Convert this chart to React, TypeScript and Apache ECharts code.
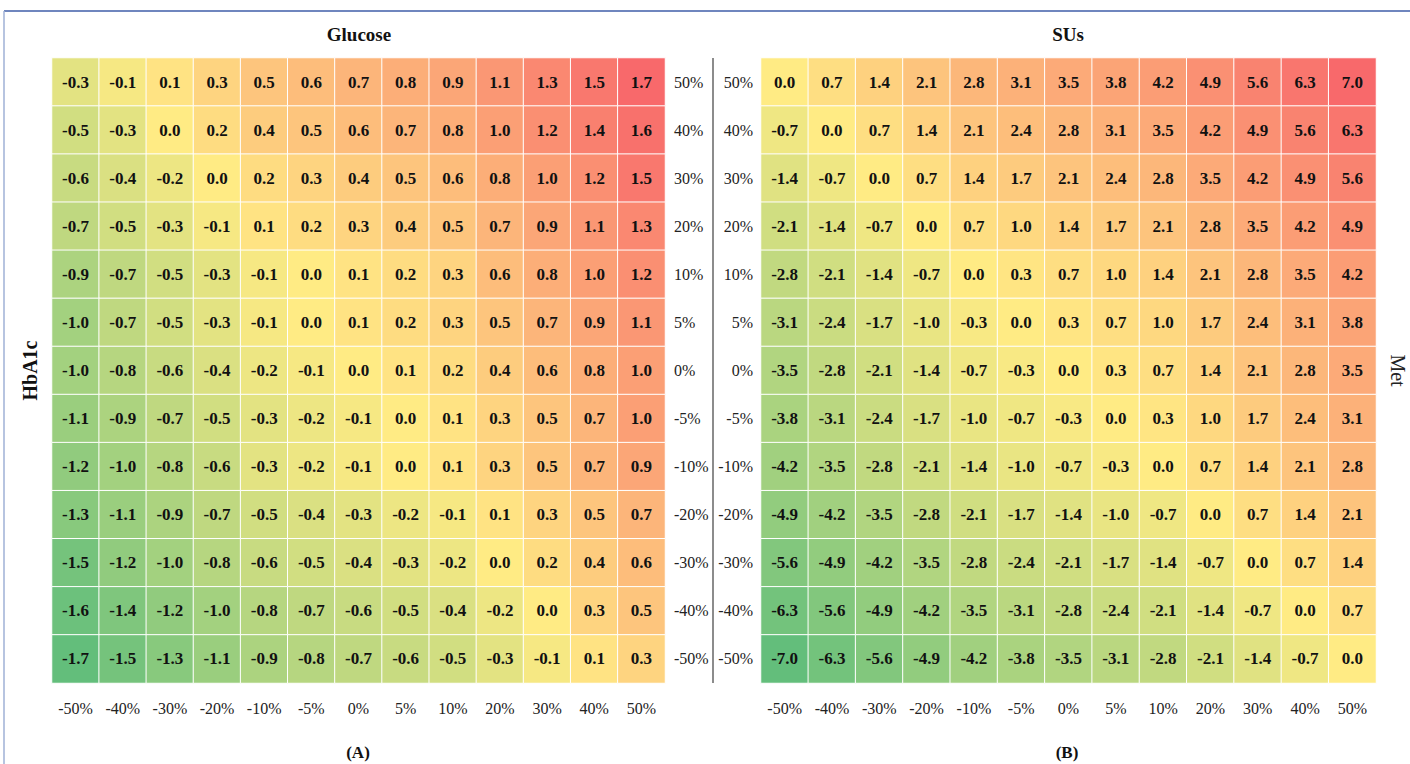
import React, { useEffect, useRef } from "react";
import * as echarts from "echarts";

const xLabels = ["-50%", "-40%", "-30%", "-20%", "-10%", "-5%", "0%", "5%", "10%", "20%", "30%", "40%", "50%"];
const yLabels = ["50%", "40%", "30%", "20%", "10%", "5%", "0%", "-5%", "-10%", "-20%", "-30%", "-40%", "-50%"];

const glucoseRows: number[][] = [
  [-0.3, -0.1, 0.1, 0.3, 0.5, 0.6, 0.7, 0.8, 0.9, 1.1, 1.3, 1.5, 1.7],
  [-0.5, -0.3, 0.0, 0.2, 0.4, 0.5, 0.6, 0.7, 0.8, 1.0, 1.2, 1.4, 1.6],
  [-0.6, -0.4, -0.2, 0.0, 0.2, 0.3, 0.4, 0.5, 0.6, 0.8, 1.0, 1.2, 1.5],
  [-0.7, -0.5, -0.3, -0.1, 0.1, 0.2, 0.3, 0.4, 0.5, 0.7, 0.9, 1.1, 1.3],
  [-0.9, -0.7, -0.5, -0.3, -0.1, 0.0, 0.1, 0.2, 0.3, 0.6, 0.8, 1.0, 1.2],
  [-1.0, -0.7, -0.5, -0.3, -0.1, 0.0, 0.1, 0.2, 0.3, 0.5, 0.7, 0.9, 1.1],
  [-1.0, -0.8, -0.6, -0.4, -0.2, -0.1, 0.0, 0.1, 0.2, 0.4, 0.6, 0.8, 1.0],
  [-1.1, -0.9, -0.7, -0.5, -0.3, -0.2, -0.1, 0.0, 0.1, 0.3, 0.5, 0.7, 1.0],
  [-1.2, -1.0, -0.8, -0.6, -0.3, -0.2, -0.1, 0.0, 0.1, 0.3, 0.5, 0.7, 0.9],
  [-1.3, -1.1, -0.9, -0.7, -0.5, -0.4, -0.3, -0.2, -0.1, 0.1, 0.3, 0.5, 0.7],
  [-1.5, -1.2, -1.0, -0.8, -0.6, -0.5, -0.4, -0.3, -0.2, 0.0, 0.2, 0.4, 0.6],
  [-1.6, -1.4, -1.2, -1.0, -0.8, -0.7, -0.6, -0.5, -0.4, -0.2, 0.0, 0.3, 0.5],
  [-1.7, -1.5, -1.3, -1.1, -0.9, -0.8, -0.7, -0.6, -0.5, -0.3, -0.1, 0.1, 0.3],
];

const susRows: number[][] = [
  [0.0, 0.7, 1.4, 2.1, 2.8, 3.1, 3.5, 3.8, 4.2, 4.9, 5.6, 6.3, 7.0],
  [-0.7, 0.0, 0.7, 1.4, 2.1, 2.4, 2.8, 3.1, 3.5, 4.2, 4.9, 5.6, 6.3],
  [-1.4, -0.7, 0.0, 0.7, 1.4, 1.7, 2.1, 2.4, 2.8, 3.5, 4.2, 4.9, 5.6],
  [-2.1, -1.4, -0.7, 0.0, 0.7, 1.0, 1.4, 1.7, 2.1, 2.8, 3.5, 4.2, 4.9],
  [-2.8, -2.1, -1.4, -0.7, 0.0, 0.3, 0.7, 1.0, 1.4, 2.1, 2.8, 3.5, 4.2],
  [-3.1, -2.4, -1.7, -1.0, -0.3, 0.0, 0.3, 0.7, 1.0, 1.7, 2.4, 3.1, 3.8],
  [-3.5, -2.8, -2.1, -1.4, -0.7, -0.3, 0.0, 0.3, 0.7, 1.4, 2.1, 2.8, 3.5],
  [-3.8, -3.1, -2.4, -1.7, -1.0, -0.7, -0.3, 0.0, 0.3, 1.0, 1.7, 2.4, 3.1],
  [-4.2, -3.5, -2.8, -2.1, -1.4, -1.0, -0.7, -0.3, 0.0, 0.7, 1.4, 2.1, 2.8],
  [-4.9, -4.2, -3.5, -2.8, -2.1, -1.7, -1.4, -1.0, -0.7, 0.0, 0.7, 1.4, 2.1],
  [-5.6, -4.9, -4.2, -3.5, -2.8, -2.4, -2.1, -1.7, -1.4, -0.7, 0.0, 0.7, 1.4],
  [-6.3, -5.6, -4.9, -4.2, -3.5, -3.1, -2.8, -2.4, -2.1, -1.4, -0.7, 0.0, 0.7],
  [-7.0, -6.3, -5.6, -4.9, -4.2, -3.8, -3.5, -3.1, -2.8, -2.1, -1.4, -0.7, 0.0],
];

const titles = ["Glucose", "SUs"];
const panelTags = ["(A)", "(B)"];
const yNameLeft = "HbA1c";
const yNameRight = "Met";

const FONT = "Liberation Serif, serif";
const scaleColors = ["#63BE7B", "#FFEB84", "#F8696B"];

function toData(rows: number[][]) {
  const out: [number, number, number][] = [];
  rows.forEach((row, yi) => row.forEach((v, xi) => out.push([xi, yi, v])));
  return out;
}

export default function App() {
  const ref = useRef<HTMLDivElement>(null);
  useEffect(() => {
    if (!ref.current) return;
    const chart = echarts.init(ref.current, null, { renderer: "svg" });
    const G1 = { left: 52, top: 58, width: 613, height: 625 };
    const G2 = { left: 761, top: 58, width: 615, height: 625 };
    const gMin = Math.min(...glucoseRows.flat());
    const gMax = Math.max(...glucoseRows.flat());
    const sMin = Math.min(...susRows.flat());
    const sMax = Math.max(...susRows.flat());
    const xAxisCommon = {
      type: "category" as const,
      data: xLabels,
      position: "bottom" as const,
      axisLine: { show: false },
      axisTick: { show: false },
      splitLine: { show: false },
      axisLabel: { fontFamily: FONT, fontSize: 16, color: "#222", margin: 17 },
    };
    const yAxisCommon = {
      type: "category" as const,
      data: yLabels,
      inverse: true,
      axisLine: { show: false },
      axisTick: { show: false },
      splitLine: { show: false },
    };
    const labelStyle = {
      show: true,
      fontFamily: FONT,
      fontSize: 17,
      fontWeight: "bold" as const,
      color: "#111",
      formatter: (p: any) => (p.value[2] as number).toFixed(1),
    };
    const titleStyle = { fontFamily: FONT, fontSize: 19, fontWeight: "bold" as const, color: "#111" };
    const tagStyle = { fontFamily: FONT, fontSize: 17, fontWeight: "bold" as const, color: "#111" };
    const option: any = {
      animation: false,
      backgroundColor: "#fff",
      title: [
        { text: titles[0], left: 359, top: 25, padding: 0, textAlign: "center", textStyle: titleStyle },
        { text: titles[1], left: 1068, top: 25, padding: 0, textAlign: "center", textStyle: titleStyle },
        { text: panelTags[0], left: 358, top: 744, textAlign: "center", padding: 0, textStyle: tagStyle },
        { text: panelTags[1], left: 1067, top: 744, textAlign: "center", padding: 0, textStyle: tagStyle },
      ],
      grid: [
        { ...G1, containLabel: false },
        { ...G2, containLabel: false },
      ],
      xAxis: [
        { ...xAxisCommon, gridIndex: 0 },
        { ...xAxisCommon, gridIndex: 1 },
      ],
      yAxis: [
        {
          ...yAxisCommon,
          gridIndex: 0,
          position: "right",
          axisLabel: { fontFamily: FONT, fontSize: 16, color: "#222", margin: 9, align: "left" },
        },
        {
          ...yAxisCommon,
          gridIndex: 1,
          position: "left",
          axisLabel: { fontFamily: FONT, fontSize: 16, color: "#222", margin: 8, align: "right" },
        },
      ],
      visualMap: [
        { type: "continuous", show: false, seriesIndex: 0, dimension: 2, min: gMin, max: gMax, inRange: { color: scaleColors } },
        { type: "continuous", show: false, seriesIndex: 1, dimension: 2, min: sMin, max: sMax, inRange: { color: scaleColors } },
      ],
      series: [
        {
          type: "heatmap",
          xAxisIndex: 0,
          yAxisIndex: 0,
          data: toData(glucoseRows),
          label: labelStyle,
          itemStyle: { borderColor: "#fff", borderWidth: 1 },
          emphasis: { disabled: true },
        },
        {
          type: "heatmap",
          xAxisIndex: 1,
          yAxisIndex: 1,
          data: toData(susRows),
          label: labelStyle,
          itemStyle: { borderColor: "#fff", borderWidth: 1 },
          emphasis: { disabled: true },
        },
      ],
      graphic: [
        { type: "line", shape: { x1: 4, y1: 11, x2: 1410, y2: 11 }, style: { stroke: "#3f5ea8", lineWidth: 1.5 } },
        { type: "line", shape: { x1: 4, y1: 11, x2: 4, y2: 764 }, style: { stroke: "#9fb0d6", lineWidth: 1.5 } },
        { type: "line", shape: { x1: 713, y1: G1.top, x2: 713, y2: G1.top + G1.height }, style: { stroke: "#666", lineWidth: 1.5 } },
        {
          type: "text",
          x: 30,
          y: G1.top + G1.height / 2,
          rotation: Math.PI / 2,
          style: { text: yNameLeft, fontFamily: FONT, fontSize: 20, fontWeight: "bold", fill: "#111", align: "center", verticalAlign: "middle" },
        },
        {
          type: "text",
          x: 1398,
          y: G2.top + G2.height / 2,
          rotation: -Math.PI / 2,
          style: { text: yNameRight, fontFamily: FONT, fontSize: 20, fill: "#222", align: "center", verticalAlign: "middle" },
        },
      ],
    };
    chart.setOption(option);
    return () => chart.dispose();
  }, []);
  return (
    <div
      ref={ref}
      style={{ position: "absolute", left: 0, top: 0, width: 1410, height: 764 }}
    />
  );
}
